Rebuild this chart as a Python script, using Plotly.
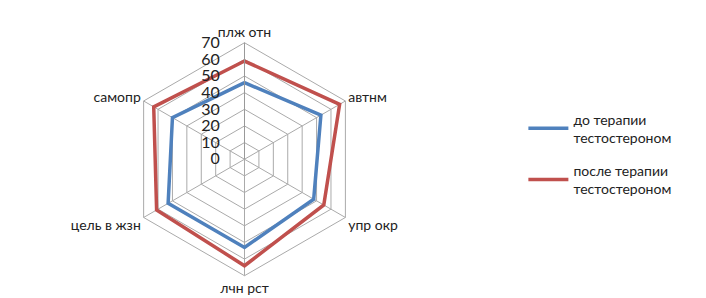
import plotly.graph_objects as go

categories = ["плж отн", "автнм", "упр окр", "лчн рст", "цель в жзн", "самопр"]
before = [46, 53, 48, 53, 53, 50]
after = [59, 66, 55, 64, 61, 63]
series_names = ["до терапии<br>тестостероном", "после терапии<br>тестостероном"]
radial_ticks = [0, 10, 20, 30, 40, 50, 60, 70]
pad = "<span style='color:rgba(0,0,0,0)'>00</span>"

fig = go.Figure()
for i, (vals, name, color) in enumerate([(before, series_names[0], "#4F81BD"),
                                         (after, series_names[1], "#C0504D")]):
    fig.add_trace(go.Scatterpolar(
        r=vals + vals[:1], theta=categories + categories[:1], mode="lines",
        name=name, legendgroup=f"g{i}", line=dict(color=color, width=3.5)))

fig.update_layout(
    width=706, height=298,
    margin=dict(l=0, r=0, t=0, b=0),
    paper_bgcolor="white",
    font=dict(family="Lato, Open Sans, sans-serif", size=14, color="#222"),
    polar=dict(
        domain=dict(x=[0.17, 0.5], y=[0.1, 0.885]),
        gridshape="linear",
        bgcolor="white",
        radialaxis=dict(range=[0, 70], tickvals=radial_ticks,
                        ticktext=[f"{t}{pad}" for t in radial_ticks],
                        angle=90, tickangle=90, side="counterclockwise",
                        showline=True, linecolor="#999", linewidth=1,
                        gridcolor="#aaa", gridwidth=1, ticks="",
                        tickfont=dict(size=16, color="#222")),
        angularaxis=dict(rotation=90, direction="clockwise", gridcolor="#aaa",
                         linecolor="#aaa", linewidth=1, ticks="",
                         tickfont=dict(size=14, color="#222")),
    ),
    legend=dict(x=0.73, y=0.51, xanchor="left", yanchor="middle", itemwidth=40,
                font=dict(size=14, color="#222"), tracegroupgap=12),
)
fig.write_html("out.html")
